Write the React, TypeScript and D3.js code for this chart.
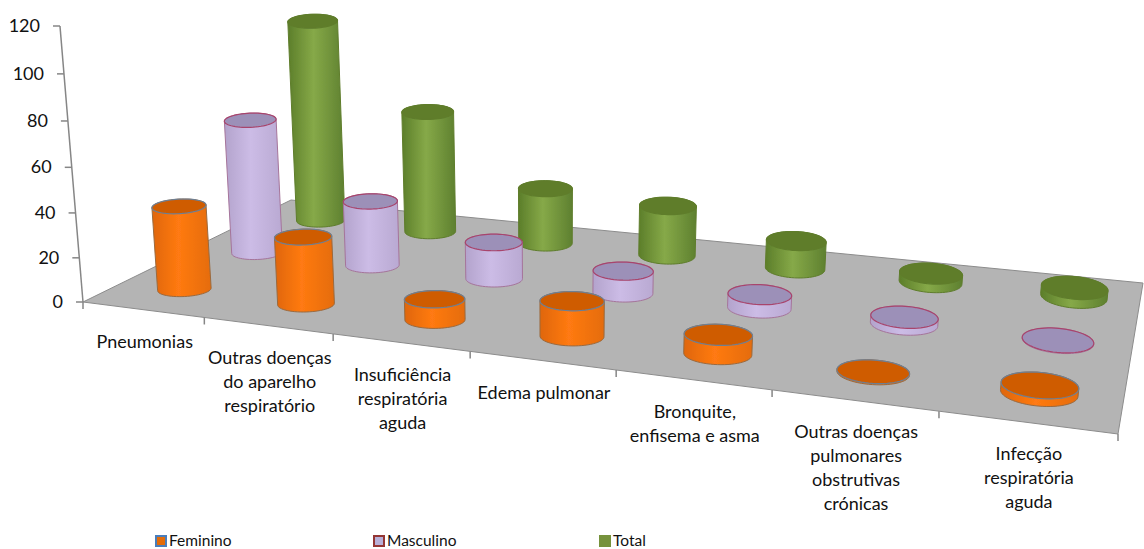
import React from "react";
import * as d3 from "d3";

const categories = [
  ["Pneumonias"],
  ["Outras doenças", "do aparelho", "respiratório"],
  ["Insuficiência", "respiratória", "aguda"],
  ["Edema pulmonar"],
  ["Bronquite,", "enfisema e asma"],
  ["Outras doenças", "pulmonares", "obstrutivas", "crónicas"],
  ["Infecção", "respiratória", "aguda"],
];
const feminino = [38, 30, 9, 15, 8, 0.5, 3];
const masculino = [64, 30.5, 17, 10, 6, 3, 0.3];
const total = [101, 60, 27, 24, 13, 4, 4];
const yTicks = [0, 20, 40, 60, 80, 100, 120];

const styles = [
  { name: "Feminino", values: feminino, row: 0, body: ["#df6608", "#ff7a12", "#e56c0a"], top: "#cf5c04", stroke: "#6e7f92", bodyStroke: "#9a6a40", key: "#e36c09", keyStroke: "#4a7ebb" },
  { name: "Masculino", values: masculino, row: 1, body: ["#b3a3cc", "#ccbce6", "#b9a9d2"], top: "#9c90b8", stroke: "#a8446c", bodyStroke: "#a5749a", key: "#b8b0d8", keyStroke: "#943634" },
  { name: "Total", values: total, row: 2, body: ["#5c7e2a", "#86a948", "#5e8030"], top: "#5f7d2c", stroke: "#5f7d2c", bodyStroke: "#5f7d2c", key: "#76923c", keyStroke: "#76923c" },
];

// Floor corners on screen and the top of the value axis
const P0: [number, number] = [83, 302];
const P1: [number, number] = [1118, 434];
const P2: [number, number] = [1143, 283];
const P3: [number, number] = [291, 200];
const AXIS_TOP: [number, number] = [60, 26];
const VANISH: [number, number] = [550, 5900];
const R_U = 0.225;

const dx1 = P1[0] - P2[0], dx2 = P3[0] - P2[0], sx = P0[0] - P1[0] + P2[0] - P3[0];
const dy1 = P1[1] - P2[1], dy2 = P3[1] - P2[1], sy = P0[1] - P1[1] + P2[1] - P3[1];
const det = dx1 * dy2 - dx2 * dy1;
const g = (sx * dy2 - dx2 * sy) / det;
const h = (dx1 * sy - sx * dy1) / det;
const a = P1[0] - P0[0] + g * P1[0], b = P3[0] - P0[0] + h * P3[0];
const d = P1[1] - P0[1] + g * P1[1], e = P3[1] - P0[1] + h * P3[1];
const c3 = (AXIS_TOP[1] - P0[1]) / (VANISH[1] - AXIS_TOP[1]);
const c1 = c3 * VANISH[0], c2 = c3 * VANISH[1];

const uScale = d3.scaleLinear().domain([0, categories.length]).range([0, 1]);
const vScale = d3.scaleLinear().domain([0, 3]).range([0, 1]);
const zScale = d3.scaleLinear().domain([0, 120]).range([0, 1]);
const flatten = d3.scaleLinear().domain([83, 1118]).range([0.26, 0.34]);
const tilt = d3.scaleLinear().domain([83, 1118]).range([-4, 6]);

function project(u: number, v: number, val = 0): [number, number] {
  const s = uScale(u), t = vScale(v), z = zScale(val);
  const w = g * s + h * t + 1 + c3 * z;
  return [
    (a * s + b * t + P0[0] + c1 * z) / w,
    (d * s + e * t + P0[1] + c2 * z) / w,
  ];
}

const angles = d3.range(0, 2 * Math.PI, Math.PI / 30);
const ring = (u: number, v: number, val: number): [number, number][] => {
  const c = project(u, v, val);
  const l = project(u - R_U, v, val);
  const r = project(u + R_U, v, val);
  const A = Math.hypot(r[0] - l[0], r[1] - l[1]) / 2;
  const B = A * flatten(c[0]);
  const th = (tilt(c[0]) * Math.PI) / 180;
  return angles.map((t) => {
    const ex = A * Math.cos(t), ey = B * Math.sin(t);
    return [c[0] + ex * Math.cos(th) - ey * Math.sin(th), c[1] + ex * Math.sin(th) + ey * Math.cos(th)];
  });
};
const closed = d3.line().curve(d3.curveLinearClosed);

const FONT = "Lato, 'Open Sans', sans-serif";
const legendX = d3.scaleLinear().domain([0, 1, 2]).range([156, 374, 600]);

export default function App() {
  const marks = [...styles].reverse().flatMap((st) =>
    st.values.map((val, i) => {
      const u = i + 0.52 + 0.02 * st.row;
      const base = ring(u, st.row + 0.5, 0);
      const top = ring(u, st.row + 0.5, val);
      const hull = d3.polygonHull([...base, ...top]) as [number, number][];
      return { st, i, hull, top };
    })
  );
  const floor = [project(0, 0), project(7, 0), project(7, 3), project(0, 3)];
  const ln = (p: [number, number], q: [number, number], key: string) => (
    <line key={key} x1={p[0]} y1={p[1]} x2={q[0]} y2={q[1]} stroke="#868686" strokeWidth={1.5} />
  );
  return (
    <svg width={1144} height={549} style={{ position: "absolute", left: 0, top: 0, background: "#fff" }}>
      <defs>
        {styles.map((st) => (
          <linearGradient key={st.name} id={"g" + st.row} x1="0" x2="1" y1="0" y2="0">
            <stop offset="0" stopColor={st.body[0]} />
            <stop offset="0.45" stopColor={st.body[1]} />
            <stop offset="1" stopColor={st.body[2]} />
          </linearGradient>
        ))}
        <filter id="soft" x="-5%" y="-5%" width="110%" height="110%">
          <feGaussianBlur stdDeviation="0.5" />
        </filter>
      </defs>
      <g filter="url(#soft)">
        <path d={closed(floor) as string} fill="#b4b4b4" stroke="#8c8c8c" strokeWidth={1} />
        {ln(project(0, 0), project(0, 0, 120), "axis")}
        {yTicks.map((t) => {
          const p = project(0, 0, t);
          return ln(p, [p[0] - 7, p[1]], "yt" + t);
        })}
        {d3.range(0, 8).map((i) => {
          const p = project(i, 0);
          return ln(p, [p[0], p[1] + 7], "xt" + i);
        })}
        {marks.map(({ st, i, hull, top }) => (
          <g key={st.name + i}>
            <path d={closed(hull) as string} fill={`url(#g${st.row})`} stroke={st.bodyStroke} strokeWidth={1} />
            <path d={closed(top) as string} fill={st.top} stroke={st.stroke} strokeWidth={1.2} />
          </g>
        ))}
      </g>
      <g fontFamily={FONT} fontSize={18} fill="#111">
        {yTicks.map((t) => {
          const p = project(0, 0, t);
          return (
            <text key={t} x={p[0] - 20} y={p[1] + 6} textAnchor="end">{t}</text>
          );
        })}
        {categories.map((lines, i) => {
          const p = project(i + 0.5, 0);
          return (
            <text key={i} textAnchor="middle">
              {lines.map((l, k) => (
                <tspan key={k} x={p[0] + 2} y={p[1] + 38 + k * 24}>{l}</tspan>
              ))}
            </text>
          );
        })}
      </g>
      <g fontFamily={FONT} fontSize={15.5} fill="#111">
        {styles.map((st, k) => {
          const x = legendX(k);
          return (
            <g key={st.name}>
              <rect x={x} y={536} width={10} height={10} fill={st.key} stroke={st.keyStroke} strokeWidth={2} />
              <text x={x + 13} y={546}>{st.name}</text>
            </g>
          );
        })}
      </g>
    </svg>
  );
}
